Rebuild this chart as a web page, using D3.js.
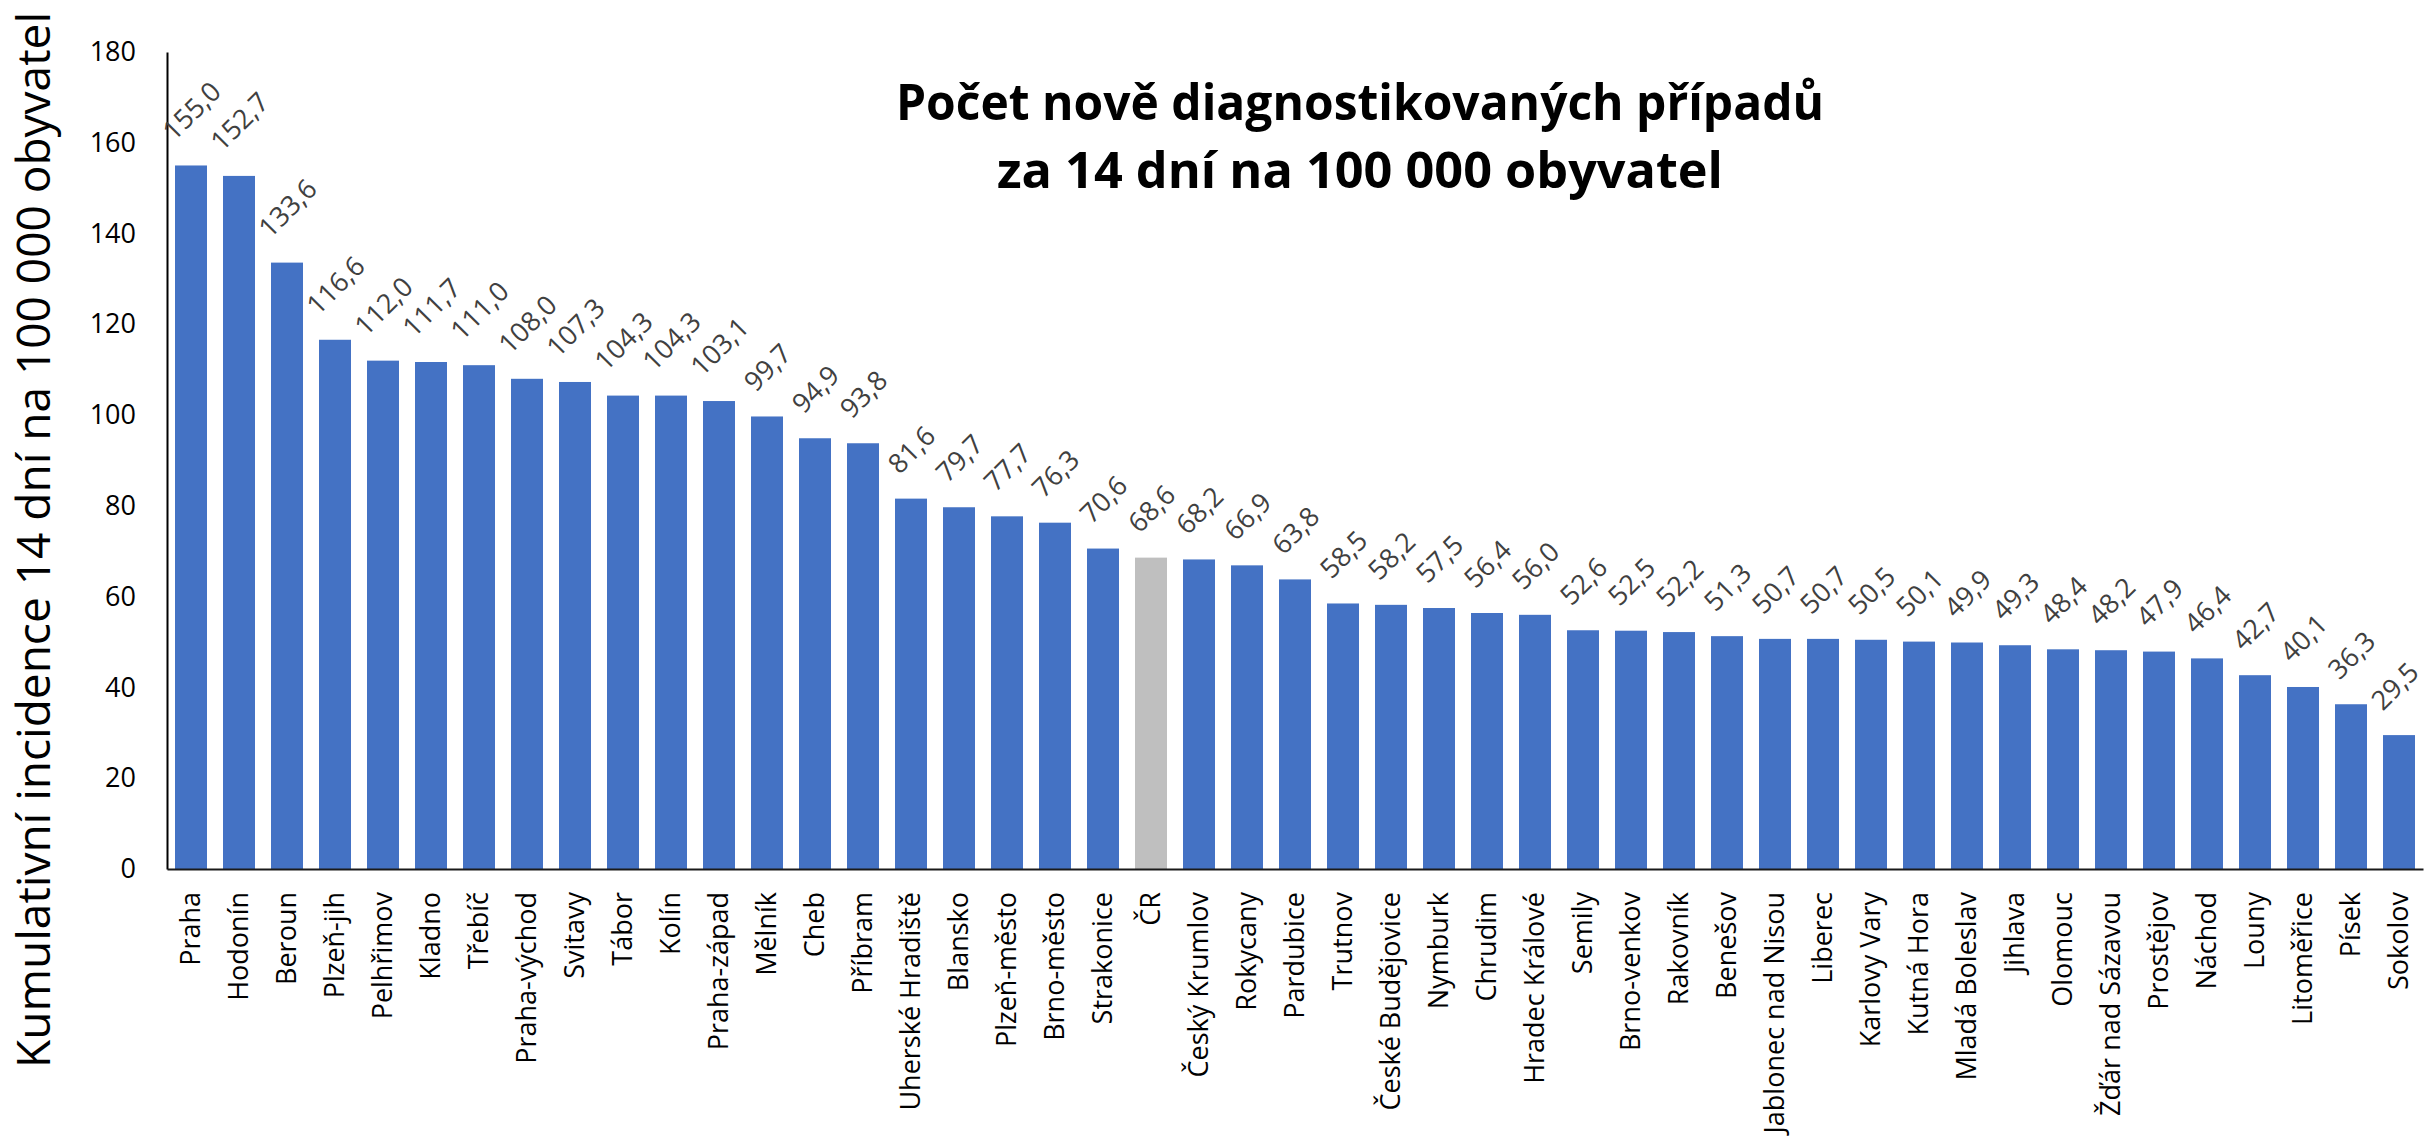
<!DOCTYPE html>
<html>
<head>
<meta charset="utf-8">
<script src="https://cdn.jsdelivr.net/npm/d3@7"></script>
<style>
  html, body { margin: 0; padding: 0; background: #ffffff; }
  svg { display: block; }
</style>
</head>
<body>
<svg id="chart" width="2427" height="1141"></svg>
<script>
// ---------- data ----------
const categories = [
  "Praha", "Hodonín", "Beroun", "Plzeň-jih", "Pelhřimov", "Kladno", "Třebíč",
  "Praha-východ", "Svitavy", "Tábor", "Kolín", "Praha-západ", "Mělník", "Cheb",
  "Příbram", "Uherské Hradiště", "Blansko", "Plzeň-město", "Brno-město",
  "Strakonice", "ČR", "Český Krumlov", "Rokycany", "Pardubice", "Trutnov",
  "České Budějovice", "Nymburk", "Chrudim", "Hradec Králové", "Semily",
  "Brno-venkov", "Rakovník", "Benešov", "Jablonec nad Nisou", "Liberec",
  "Karlovy Vary", "Kutná Hora", "Mladá Boleslav", "Jihlava", "Olomouc",
  "Žďár nad Sázavou", "Prostějov", "Náchod", "Louny", "Litoměřice", "Písek",
  "Sokolov"
];
const values = [
  155.0, 152.7, 133.6, 116.6, 112.0, 111.7, 111.0,
  108.0, 107.3, 104.3, 104.3, 103.1, 99.7, 94.9,
  93.8, 81.6, 79.7, 77.7, 76.3,
  70.6, 68.6, 68.2, 66.9, 63.8, 58.5,
  58.2, 57.5, 56.4, 56.0, 52.6,
  52.5, 52.2, 51.3, 50.7, 50.7,
  50.5, 50.1, 49.9, 49.3, 48.4,
  48.2, 47.9, 46.4, 42.7, 40.1, 36.3,
  29.5
];
const highlightCategory = "ČR";
const yTicks = [0, 20, 40, 60, 80, 100, 120, 140, 160, 180];
const titleLines = ["Počet nově diagnostikovaných případů", "za 14 dní na 100 000 obyvatel"];
const yAxisTitle = "Kumulativní incidence 14 dní na 100 000 obyvatel";

// ---------- layout ----------
const W = 2427;
const plotLeft = 167, plotRight = 2423, plotTop = 52, plotBottom = 869;
const FONT = "'Open Sans', 'Noto Sans', sans-serif";
const fmt = v => v.toFixed(1).replace(".", ",");

const svg = d3.select("#chart");

const x = d3.scaleBand()
  .domain(categories)
  .range([plotLeft, plotRight])
  .paddingInner(1/3)
  .paddingOuter(1/6);

const y = d3.scaleLinear()
  .domain([0, 180])
  .range([plotBottom, plotTop]);

// bars
svg.append("g")
  .selectAll("rect")
  .data(categories)
  .join("rect")
  .attr("x", d => x(d))
  .attr("width", x.bandwidth())
  .attr("y", (d, i) => y(values[i]))
  .attr("height", (d, i) => y(0) - y(values[i]))
  .attr("fill", d => d === highlightCategory ? "#BFBFBF" : "#4472C4");

// y axis
const yAxis = svg.append("g")
  .attr("transform", `translate(${plotLeft},0)`)
  .call(d3.axisLeft(y).tickValues(yTicks).tickSize(0).tickSizeOuter(0).tickPadding(31).tickFormat(d3.format("d")));
yAxis.select(".domain").attr("stroke", "#000").attr("stroke-width", 2);
yAxis.selectAll("text")
  .attr("font-family", FONT)
  .attr("font-size", 27)
  .attr("fill", "#000");

// x axis
const xAxis = svg.append("g")
  .attr("transform", `translate(0,${plotBottom})`)
  .call(d3.axisBottom(x).tickSize(0).tickSizeOuter(0));
xAxis.select(".domain").attr("stroke", "#1a1a1a").attr("stroke-width", 2);
xAxis.selectAll("text")
  .attr("font-family", FONT)
  .attr("font-size", 27)
  .attr("fill", "#000")
  .attr("text-anchor", "end")
  .attr("y", 0)
  .attr("x", 0)
  .attr("dy", "0.35em")
  .attr("transform", "translate(0,23) rotate(-90)");

// data labels (rotated -45°)
const labelSize = 27, gap = 24, digitH = 0.72 * labelSize;
const labels = svg.append("g")
  .selectAll("text")
  .data(categories)
  .join("text")
  .attr("font-family", FONT)
  .attr("font-size", labelSize)
  .attr("fill", "#404040")
  .attr("text-anchor", "middle")
  .attr("dominant-baseline", "central")
  .text((d, i) => fmt(values[i]));
labels.each(function (d, i) {
  const w = this.getComputedTextLength();
  const half = (w + digitH) / (2 * Math.SQRT2);
  let cx = x(d) + x.bandwidth() / 2;
  const cy = y(values[i]) - gap - half;
  const sel = d3.select(this);
  sel.attr("transform", `translate(${cx},${cy}) rotate(-45)`);
  const r = this.getBoundingClientRect();
  if (r.right > W - 1) {
    cx -= (r.right - (W - 1));
    sel.attr("transform", `translate(${cx},${cy}) rotate(-45)`);
  }
});

// y axis title
svg.append("text")
  .attr("font-family", FONT)
  .attr("font-size", 45)
  .attr("fill", "#000")
  .attr("text-anchor", "middle")
  .attr("textLength", 1056)
  .attr("lengthAdjust", "spacingAndGlyphs")
  .attr("transform", "translate(50,540) rotate(-90)")
  .text(yAxisTitle);

// title
const titleWidths = [928, 726];
const titleBaselines = [120, 188];
svg.append("g")
  .selectAll("text")
  .data(titleLines)
  .join("text")
  .attr("font-family", FONT)
  .attr("font-weight", "bold")
  .attr("font-size", 50)
  .attr("fill", "#000")
  .attr("text-anchor", "middle")
  .attr("x", 1360)
  .attr("y", (d, i) => titleBaselines[i])
  .attr("textLength", (d, i) => titleWidths[i])
  .attr("lengthAdjust", "spacingAndGlyphs")
  .text(d => d);
</script>
</body>
</html>
